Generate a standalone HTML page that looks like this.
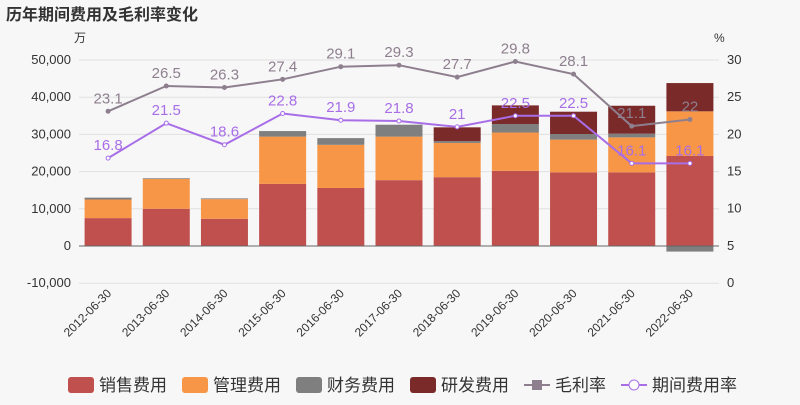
<!DOCTYPE html>
<html><head><meta charset="utf-8"><style>
body{margin:0;background:#f7f7f7;font-family:"Liberation Sans","Noto Sans CJK SC",sans-serif}
svg text{font-family:"Liberation Sans","Noto Sans CJK SC",sans-serif}
</style></head><body>
<svg id="c" width="800" height="400">
<rect width="800" height="400" fill="#f7f7f7"/>
<text x="6" y="20" font-size="16" font-weight="bold" fill="#333">历年期间费用及毛利率变化</text>
<text x="74" y="42" font-size="12" fill="#333">万</text>
<text x="714" y="42" font-size="12" fill="#333">%</text>
<g id="grid"></g><g id="bars"></g><g id="lines"></g><g id="axes"></g><g id="legend"></g>
</svg>
<script>
const categories=["2012-06-30","2013-06-30","2014-06-30","2015-06-30","2016-06-30","2017-06-30","2018-06-30","2019-06-30","2020-06-30","2021-06-30","2022-06-30"];
const sales=[7500,10000,7300,16700,15600,17700,18500,20200,19800,19800,24200];
const mgmt=[5000,8000,5300,12700,11600,11700,9200,10300,8800,9400,12000];
const finance=[500,200,200,1500,1800,3200,500,2300,1500,1000,-1500];
const rd=[0,0,0,0,0,0,3700,5000,6000,7500,7600];
const margin=[23.1,26.5,26.3,27.4,29.1,29.3,27.7,29.8,28.1,21.1,22];
const rate=[16.8,21.5,18.6,22.8,21.9,21.8,21,22.5,22.5,16.1,16.1];
const leftTicks=[-10000,0,10000,20000,30000,40000,50000];
const leftLabels=["-10,000","0","10,000","20,000","30,000","40,000","50,000"];
const rightTicks=[0,5,10,15,20,25,30];
const NS="http://www.w3.org/2000/svg";
const x0=79,x1=719,yTop=60,yBot=283;
const yL=v=>246-(v/10000)*37.2;
const yR=v=>yBot-(v/30)*(yBot-yTop);
const bw=(x1-x0)/categories.length;
const xc=i=>x0+bw*(i+0.5);
function mk(tag,parent,attrs){const e=document.createElementNS(NS,tag);for(const k in attrs)e.setAttribute(k,attrs[k]);document.getElementById(parent).appendChild(e);return e;}
leftTicks.forEach((t,i)=>{
 const g=mk('line','grid',{x1:x0,x2:x1,y1:yL(t),y2:yL(t),stroke:'#e0e0e0'});
 
 
 const tx=mk('text','axes',{x:x0-8,y:yL(t)+4,'text-anchor':'end','font-size':13,fill:'#333'});
 tx.textContent=leftLabels[i];
 
 
});
rightTicks.forEach(t=>{
 const tx=mk('text','axes',{x:x1+8,y:yR(t)+4,'font-size':13,fill:'#333'});
 tx.textContent=t;
 
 
});
const series=[[sales,'#c0504d','bar-sales'],[mgmt,'#f79646','bar-mgmt'],[finance,'#7f7f7f','bar-finance'],[rd,'#7b2a2a','bar-rd']];
categories.forEach((c,i)=>{
 let pos=0,neg=0;
 series.forEach(([arr,col,nm])=>{
  const v=arr[i]; if(!v)return;
  let a,b; if(v>0){a=pos;b=pos+v;pos=b;}else{a=neg+v;b=neg;neg=a;}
  const r=mk('rect','bars',{x:xc(i)-23.5,width:47,y:yL(b),height:yL(a)-yL(b),fill:col});
  
  
 });
 const tx=mk('text','axes',{transform:`translate(${xc(i)+4},${294}) rotate(-45)`,'text-anchor':'end','font-size':12,fill:'#333'});
 tx.textContent=c;
 
 
});
mk('line','axes',{x1:x0,x2:x1,y1:yL(0),y2:yL(0),stroke:'#666'});
function line(arr,col,nm,filled){
 const p=mk('polyline','lines',{points:arr.map((v,i)=>xc(i)+','+yR(v)).join(' '),fill:'none',stroke:col,'stroke-width':2});
 
 
 arr.forEach((v,i)=>{
  const d=mk('circle','lines',{cx:xc(i),cy:yR(v),r:2,fill:filled?col:'#fff',stroke:col});
  
  
  const t=mk('text','lines',{x:xc(i),y:yR(v)-8,'text-anchor':'middle','font-size':15,fill:col});
  t.textContent=v;
  
  
 });
}
line(margin,'#8e7f8e','line-gross-margin',true);
line(rate,'#a86ee8','line-expense-rate',false);
const leg=[['销售费用','#c0504d','r'],['管理费用','#f79646','r'],['财务费用','#7f7f7f','r'],['研发费用','#7b2a2a','r'],['毛利率','#8e7f8e','l'],['期间费用率','#a86ee8','c']];
let lx=68;
leg.forEach(([t,col,k])=>{
 if(k==='r'){const r=mk('rect','legend',{x:lx,y:377,width:26,height:16,rx:3,fill:col});}
 else{mk('line','legend',{x1:lx,x2:lx+26,y1:385,y2:385,stroke:col,'stroke-width':2});
  if(k==='l')mk('rect','legend',{x:lx+8,y:380,width:10,height:10,fill:col});
  else mk('circle','legend',{cx:lx+13,cy:385,r:5,fill:'#fff',stroke:col});}
 const tx=mk('text','legend',{x:lx+31,y:391,'font-size':17,fill:'#333'});
 tx.textContent=t;
 
 
 lx+=31+t.length*17+15;
});
</script>
</body></html>
